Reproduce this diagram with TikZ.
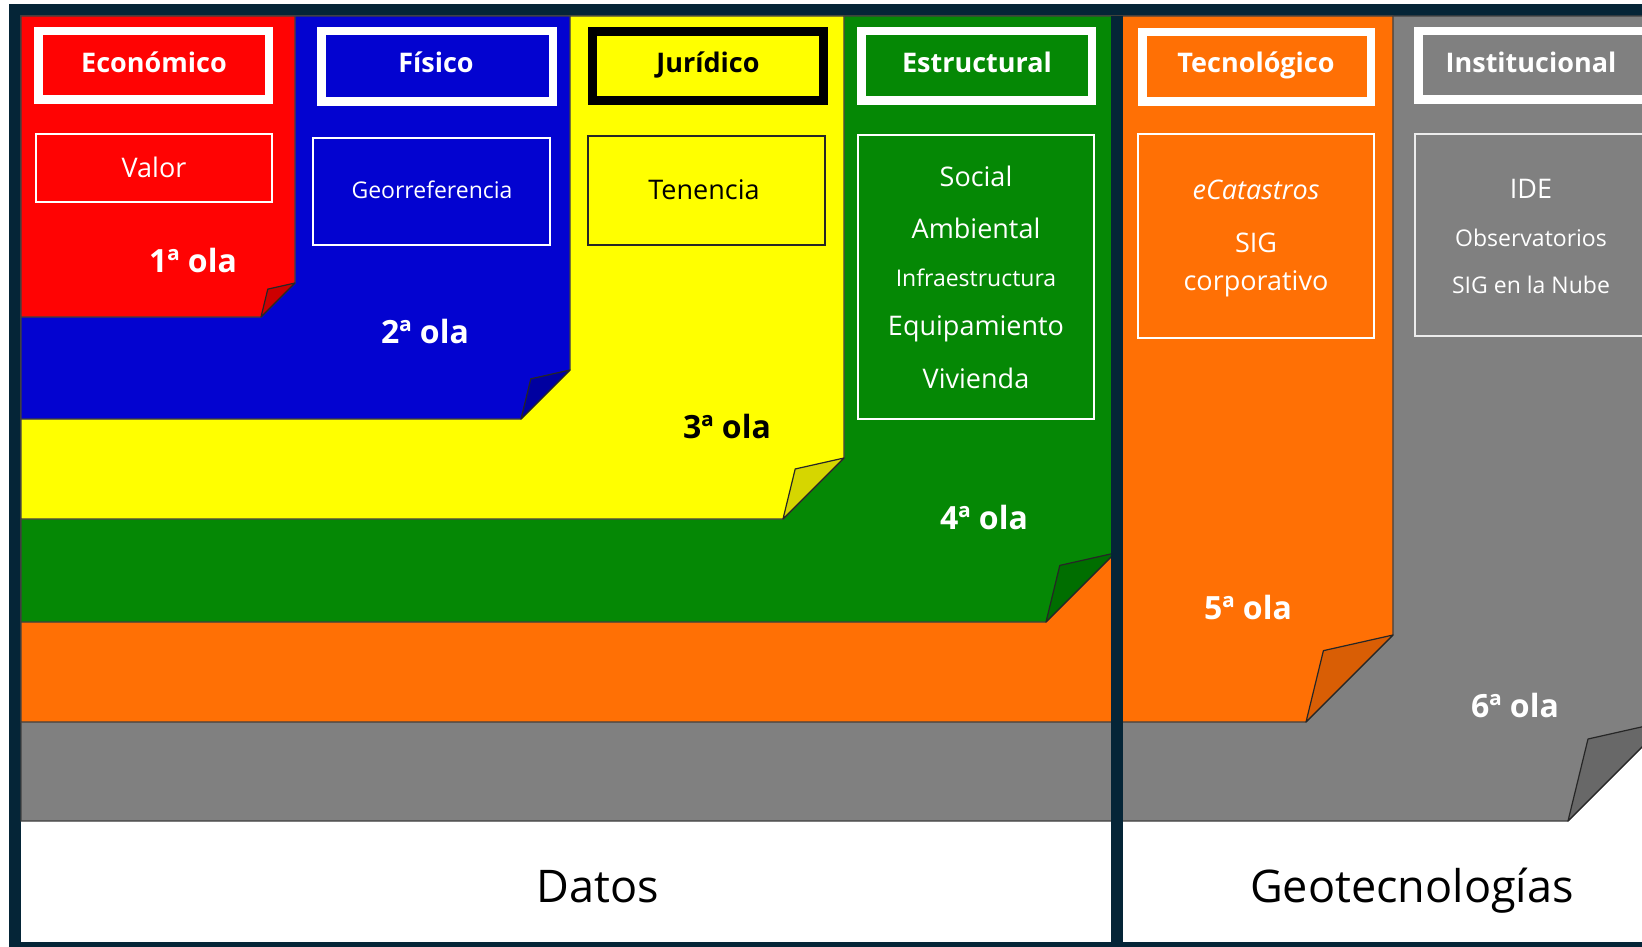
\documentclass[tikz,border=0pt]{standalone}
\usepackage{fontspec}
\setmainfont{Open Sans}
\definecolor{frame}{RGB}{5,37,55}
\definecolor{cRed}{RGB}{255,3,3}
\definecolor{fRed}{RGB}{205,0,0}
\definecolor{cBlue}{RGB}{3,3,208}
\definecolor{fBlue}{RGB}{0,0,160}
\definecolor{cYel}{RGB}{255,255,0}
\definecolor{fYel}{RGB}{214,214,0}
\definecolor{cGrn}{RGB}{5,136,5}
\definecolor{fGrn}{RGB}{0,110,0}
\definecolor{cOra}{RGB}{255,112,5}
\definecolor{fOra}{RGB}{217,94,5}
\definecolor{cGry}{RGB}{128,128,128}
\definecolor{fGry}{RGB}{104,104,104}
\newcommand\wavepanel[5]{%
  \filldraw[fill=#1, panelline] (21,16) -- (#3,16) -- (#3,{#4-#5}) -- ({#3-#5},#4) -- (21,#4) -- cycle;
  \filldraw[fill=#2, flapline] (#3,{#4-#5}) -- ({#3-0.8*#5},{#4-0.82*#5}) -- ({#3-#5},#4) -- cycle;}
\begin{document}
\begin{tikzpicture}[x=1pt,y=-1pt,
  panelline/.style={draw=black!75, line width=1.2},
  flapline/.style={draw=black!85, line width=1.2, line join=round},
  hdrbox/.style={draw=white, line width=8.5, inner sep=0pt},
  cntbox/.style={draw=white, line width=1.3, inner sep=0pt},
  hdrtxt/.style={text=white, anchor=base, inner sep=0pt, font=\fontsize{27}{32}\selectfont\bfseries},
  cnttxt/.style={text=white, anchor=base, inner sep=0pt, font=\fontsize{27}{32}\selectfont},
  smltxt/.style={text=white, anchor=base, inner sep=0pt, font=\fontsize{23}{28}\selectfont},
  olatxt/.style={text=white, anchor=base, inner sep=0pt, font=\fontsize{32}{38}\selectfont\bfseries},
  bigtxt/.style={text=black, anchor=base, inner sep=0pt, font=\fontsize{45}{54}\selectfont}]
\useasboundingbox (0,0) rectangle (1642,947);
\clip (0,0) rectangle (1642,947);
% frame and background
\fill[frame] (9,4) rectangle (1680,960);
\fill[white] (21,16) rectangle (1680,942);
% waves, back to front
\wavepanel{cGry}{fGry}{1668}{821}{100}
\wavepanel{cOra}{fOra}{1393}{722}{87}
\wavepanel{cGrn}{fGrn}{1115}{622}{69}
\wavepanel{cYel}{fYel}{844}{519}{61}
\wavepanel{cBlue}{fBlue}{570}{419}{49}
\wavepanel{cRed}{fRed}{295}{317}{34}
% divider
\fill[frame] (1111,16) rectangle (1123,942);
% header boxes
\node[hdrbox, minimum width=230.5, minimum height=68.5] (bEco) at (153.5,65.5) {};
\node[hdrbox, minimum width=231.5, minimum height=70.5] (bFis) at (437,66.5) {};
\node[hdrbox, draw=black, line width=9, minimum width=231, minimum height=69] (bJur) at (708,66) {};
\node[hdrbox, minimum width=230.5, minimum height=69.5] (bEst) at (976.5,66) {};
\node[hdrbox, minimum width=228.5, minimum height=69.5] (bTec) at (1256.5,67) {};
\node[hdrbox, minimum width=230.5, minimum height=68.5] (bIns) at (1533.5,65.5) {};
\node[hdrtxt] (tEco) at (154,73) {Económico};
\node[hdrtxt] (tFis) at (436,73) {Físico};
\node[hdrtxt, text=black] (tJur) at (708,73) {Jurídico};
\node[hdrtxt] (tEst) at (977,73) {Estructural};
\node[hdrtxt] (tTec) at (1256,73) {Tecnológico};
\node[hdrtxt] (tIns) at (1531,73) {Institucional};
% content boxes
\node[cntbox, minimum width=236, minimum height=68] (bVal) at (154,168) {};
\node[cntbox, minimum width=237, minimum height=107] (bGeo) at (431.5,191.5) {};
\node[cntbox, draw=black!85, minimum width=237, minimum height=109] (bTen) at (706.5,190.5) {};
\node[cntbox, minimum width=236, minimum height=284] (bSoc) at (976,277) {};
\node[cntbox, minimum width=236, minimum height=204] (bCat) at (1256,236) {};
\node[cntbox, draw=white!85!gray, minimum width=240, minimum height=202] (bIde) at (1535,235) {};
\node[cnttxt] (tVal) at (154,178) {Valor};
\node[smltxt] (tGeo) at (432,199) {Georreferencia};
\node[cnttxt, text=black] (tTen) at (704,200) {Tenencia};
\node[cnttxt] (tSoc) at (976,186) {Social};
\node[cnttxt] (tAmb) at (976,238) {Ambiental};
\node[smltxt] (tInf) at (976,286) {Infraestructura};
\node[cnttxt] (tEqu) at (976,335) {Equipamiento};
\node[cnttxt] (tViv) at (976,388) {Vivienda};
\node[cnttxt, font=\fontsize{27}{32}\selectfont\itshape] (tCat) at (1256,200) {eCatastros};
\node[cnttxt] (tSig) at (1256,252) {SIG};
\node[cnttxt] (tCor) at (1256,290) {corporativo};
\node[cnttxt] (tIde) at (1531,198) {IDE};
\node[smltxt] (tObs) at (1531,246) {Observatorios};
\node[smltxt] (tNub) at (1531,293) {SIG en la Nube};
% wave labels
\node[olatxt] (o1) at (193,272) {1ª ola};
\node[olatxt] (o2) at (425,343) {2ª ola};
\node[olatxt, text=black] (o3) at (727,438) {3ª ola};
\node[olatxt] (o4) at (984,529) {4ª ola};
\node[olatxt] (o5) at (1248,619) {5ª ola};
\node[olatxt] (o6) at (1515,717) {6ª ola};
% bottom captions
\node[bigtxt] (dat) at (598,902) {Datos};
\node[bigtxt] (geo) at (1412,902) {Geotecnologías};
\end{tikzpicture}
\end{document}
